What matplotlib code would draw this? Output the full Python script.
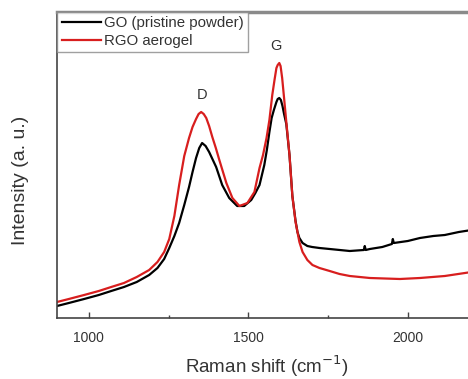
import matplotlib
matplotlib.use("Agg")
import matplotlib.pyplot as plt
from matplotlib.ticker import MultipleLocator

plt.rcParams['font.family'] = ['Liberation Sans', 'DejaVu Sans']

# Raman spectra (arbitrary intensity units)
go_shift = [900, 937, 985, 1031, 1070, 1110, 1150, 1189, 1215, 1236, 1252, 1268, 1283,
            1299, 1314, 1325, 1336, 1346, 1355, 1366, 1377, 1399, 1418, 1440, 1465,
            1487, 1509, 1522, 1535, 1550, 1558, 1566, 1573, 1580, 1588, 1592, 1597,
            1602, 1607, 1612, 1619, 1629, 1638, 1648, 1654, 1660, 1670, 1685, 1700,
            1723, 1755, 1818, 1862, 1865, 1868, 1881, 1920, 1950, 1953, 1956, 2000,
            2038, 2080, 2116, 2160, 2200]
go_int = [12, 15, 19, 23, 27, 31, 36, 43, 50, 59, 70, 82, 95,
          113, 131, 146, 160, 170, 175, 172, 166, 151, 133, 120, 112,
          112, 118, 125, 133, 153, 168, 186, 200, 208, 216, 219, 220,
          218, 212, 204, 194, 163, 122, 97, 86, 80, 75, 72, 71,
          70, 69, 67, 68, 72, 68, 69, 71, 74, 79, 75, 77,
          80, 82, 83, 86, 88]

rgo_shift = [900, 937, 985, 1031, 1070, 1110, 1150, 1189, 1215, 1236, 1252, 1268, 1283,
             1299, 1314, 1325, 1336, 1344, 1352, 1360, 1368, 1377, 1387, 1398, 1409,
             1431, 1450, 1472, 1497, 1519, 1535, 1546, 1557, 1566, 1575, 1582, 1588,
             1592, 1597, 1601, 1606, 1612, 1619, 1629, 1638, 1648, 1654, 1660, 1670,
             1685, 1701, 1723, 1755, 1786, 1818, 1881, 1975, 2038, 2116, 2200]
rgo_int = [16, 19, 23, 27, 31, 35, 41, 48, 56, 66, 79, 102, 133,
           162, 180, 191, 199, 204, 206, 204, 200, 192, 181, 170, 158,
           135, 120, 112, 115, 126, 150, 163, 180, 198, 223, 238, 250,
           253, 255, 252, 240, 220, 196, 163, 122, 96, 86, 76, 66,
           58, 53, 50, 47, 44, 42, 40, 39, 40, 42, 46]

peak_labels = ['D', 'G']
peak_pos = [(1355, 223), (1588, 272)]

fig = plt.figure(figsize=(4.68, 3.79), dpi=100)
ax = fig.add_axes([57 / 468, 61 / 379, 414.6 / 468, 306 / 379])

ax.plot(go_shift, go_int, color='black', lw=1.6, label='GO (pristine powder)')
ax.plot(rgo_shift, rgo_int, color='#d81e1e', lw=1.6, label='RGO aerogel')

for lab, (px, py) in zip(peak_labels, peak_pos):
    ax.text(px, py, lab, ha='center', va='center', fontsize=10.5, color='#333333')

ax.set_xlim(900, 2200)
ax.set_ylim(0, 306)
ax.xaxis.set_major_locator(MultipleLocator(500))
ax.xaxis.set_minor_locator(MultipleLocator(250))
ax.set_yticks([])
ax.tick_params(axis='x', which='major', direction='in', length=4, width=1,
               color='#444444', labelsize=10, labelcolor='#333333', pad=9)
ax.tick_params(axis='x', which='minor', direction='in', length=2.5, width=1,
               color='#444444')

for side in ['left', 'bottom']:
    ax.spines[side].set_color('#444444')
    ax.spines[side].set_linewidth(1.2)
ax.spines['top'].set_color('#8a8a8a')
ax.spines['top'].set_linewidth(2.5)
ax.spines['right'].set_visible(False)

ax.set_xlabel('Raman shift (cm$^{-1}$)', fontsize=13.5, color='#333333')
ax.xaxis.set_label_coords(0.505, -0.157, transform=ax.transAxes)
ax.xaxis.label.set_va('center')
ax.set_ylabel('Intensity (a. u.)', fontsize=14, color='#333333')
ax.yaxis.set_label_coords(-0.088, 0.45)
ax.yaxis.label.set_va('center')

leg = ax.legend(loc='upper left', borderaxespad=0, fontsize=10.8, frameon=True,
                fancybox=False, edgecolor='#888888', handlelength=2.6,
                handletextpad=0.2, borderpad=0.3, labelspacing=0.22)
leg.get_frame().set_linewidth(1.0)
for t in leg.get_texts():
    t.set_color('#333333')

fig.savefig('out.png', dpi=100)
